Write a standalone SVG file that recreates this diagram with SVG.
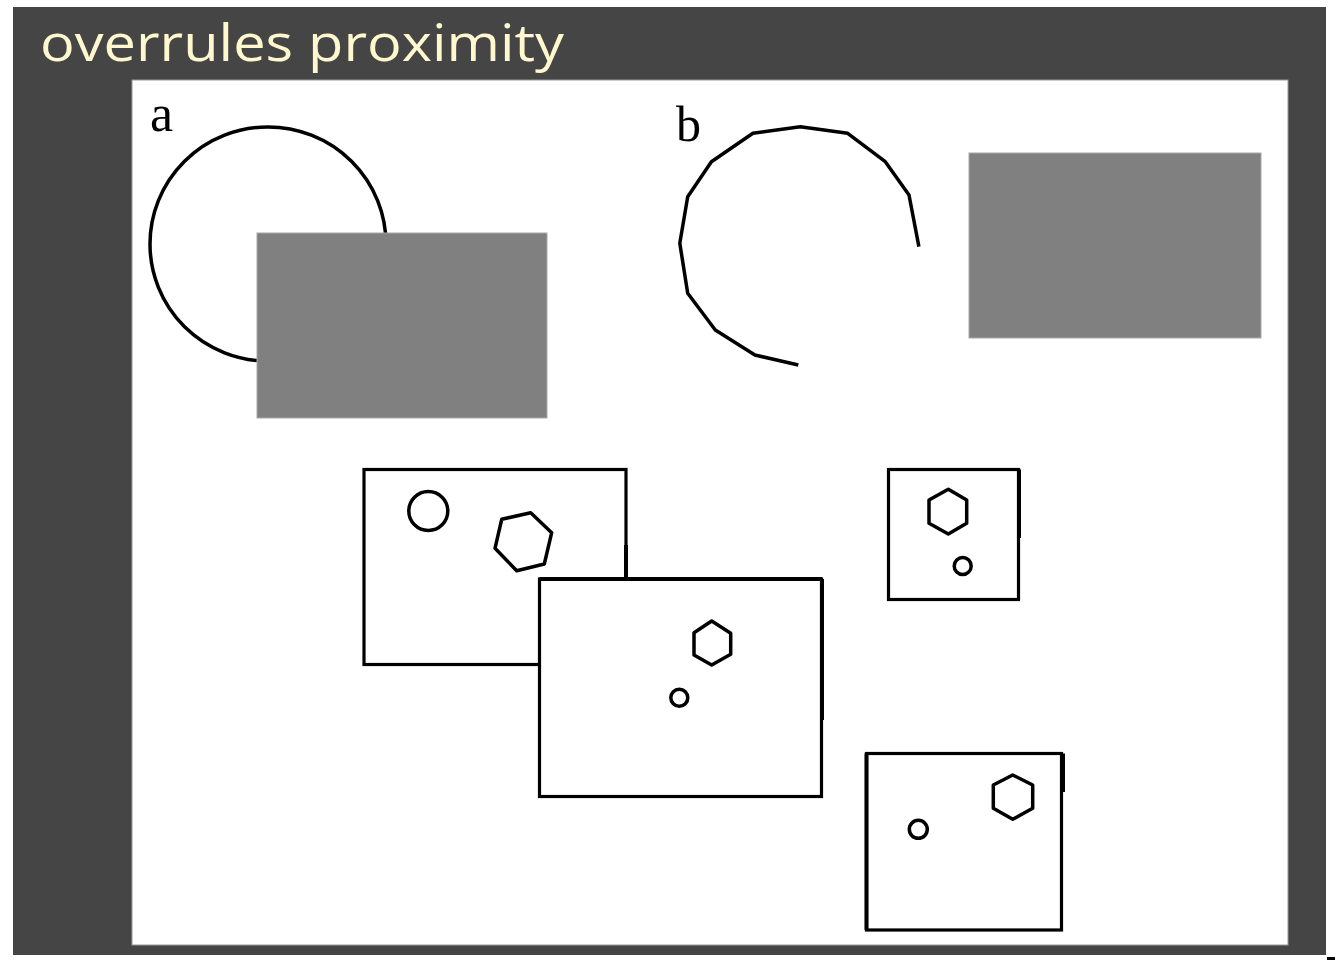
<svg xmlns="http://www.w3.org/2000/svg" width="1335" height="961" viewBox="0 0 1335 961">
<style>
.ln{fill:none;stroke:#000;stroke-width:3.5;stroke-linejoin:round}
.box{fill:#fff;stroke:#000;stroke-width:3.2}
.gray{fill:#808080;stroke:#a8a8a8;stroke-width:1}
.lbl{font-family:"Liberation Serif","Times New Roman",serif;fill:#000}
</style>
<rect x="0" y="0" width="1335" height="961" fill="#fff"/>
<rect id="frame" x="13" y="7" width="1313" height="948" fill="#454545"/>
<rect x="1327" y="957" width="8" height="3" fill="#000"/>
<text id="title" x="40" y="61" font-family="'Open Sans','DejaVu Sans',sans-serif" font-size="52" fill="#FFF8CF" textLength="524" lengthAdjust="spacingAndGlyphs">overrules proximity</text>
<rect id="canvas" x="132" y="80" width="1156" height="865" fill="#fff" stroke="#999" stroke-width="1"/>

<g id="panel-a">
<text class="lbl" x="150" y="131" font-size="52">a</text>
<ellipse class="ln" cx="268" cy="244" rx="118" ry="117"/>
<rect class="gray" x="257" y="233" width="290" height="185"/>
</g>

<g id="panel-b">
<text class="lbl" x="676" y="141" font-size="50">b</text>
<polyline class="ln" points="918.9,246.7 909,195 885.3,161.7 847.7,133.3 800.3,126.7 752.9,133.3 711.4,161.7 687.7,196.7 679.8,243.3 687.7,293.3 715.3,330 754.9,355 798.3,365"/>
<rect class="gray" x="969" y="153" width="292" height="185"/>
</g>

<g id="frame-1">
<rect class="box" x="364" y="469.5" width="262" height="195"/>
<line x1="626" y1="545" x2="626" y2="578" stroke="#000" stroke-width="4"/>
<circle class="ln" cx="428.3" cy="511" r="19.5"/>
<polygon class="ln" points="501.7,519.3 530.7,512.7 551.7,532.7 544.3,564 516.7,570.7 495,548.3"/>
</g>

<g id="frame-2">
<rect class="box" x="539.5" y="579" width="282" height="217.5"/>
<line x1="539.5" y1="579" x2="822" y2="579" stroke="#000" stroke-width="4"/>
<line x1="822" y1="579" x2="822" y2="720" stroke="#000" stroke-width="4"/>
<polygon class="ln" points="711.7,621 730.7,633.3 730.7,654.3 711.7,665 694,655 694,632.7"/>
<circle class="ln" cx="679.3" cy="697.7" r="8.5"/>
</g>

<g id="frame-3">
<rect class="box" x="888.5" y="469.5" width="130" height="130"/>
<line x1="1019" y1="469.5" x2="1019" y2="538" stroke="#000" stroke-width="4"/>
<polygon class="ln" points="948.3,489.3 966.7,500 966.7,523.3 948.3,534 929,523.3 929,500"/>
<circle class="ln" cx="962.7" cy="566" r="8.5"/>
</g>

<g id="frame-4">
<rect class="box" x="866.5" y="753.5" width="195" height="176.5"/>
<line x1="866.5" y1="753.5" x2="866.5" y2="930" stroke="#000" stroke-width="4"/>
<line x1="1063" y1="753.5" x2="1063" y2="792" stroke="#000" stroke-width="4"/>
<polygon class="ln" points="1012.7,775 1032.7,785 1032.7,808.3 1012.7,819.3 993.3,808.3 993.3,785"/>
<circle class="ln" cx="918.3" cy="829.3" r="9"/>
</g>
<g id="connectors"/>
</svg>
